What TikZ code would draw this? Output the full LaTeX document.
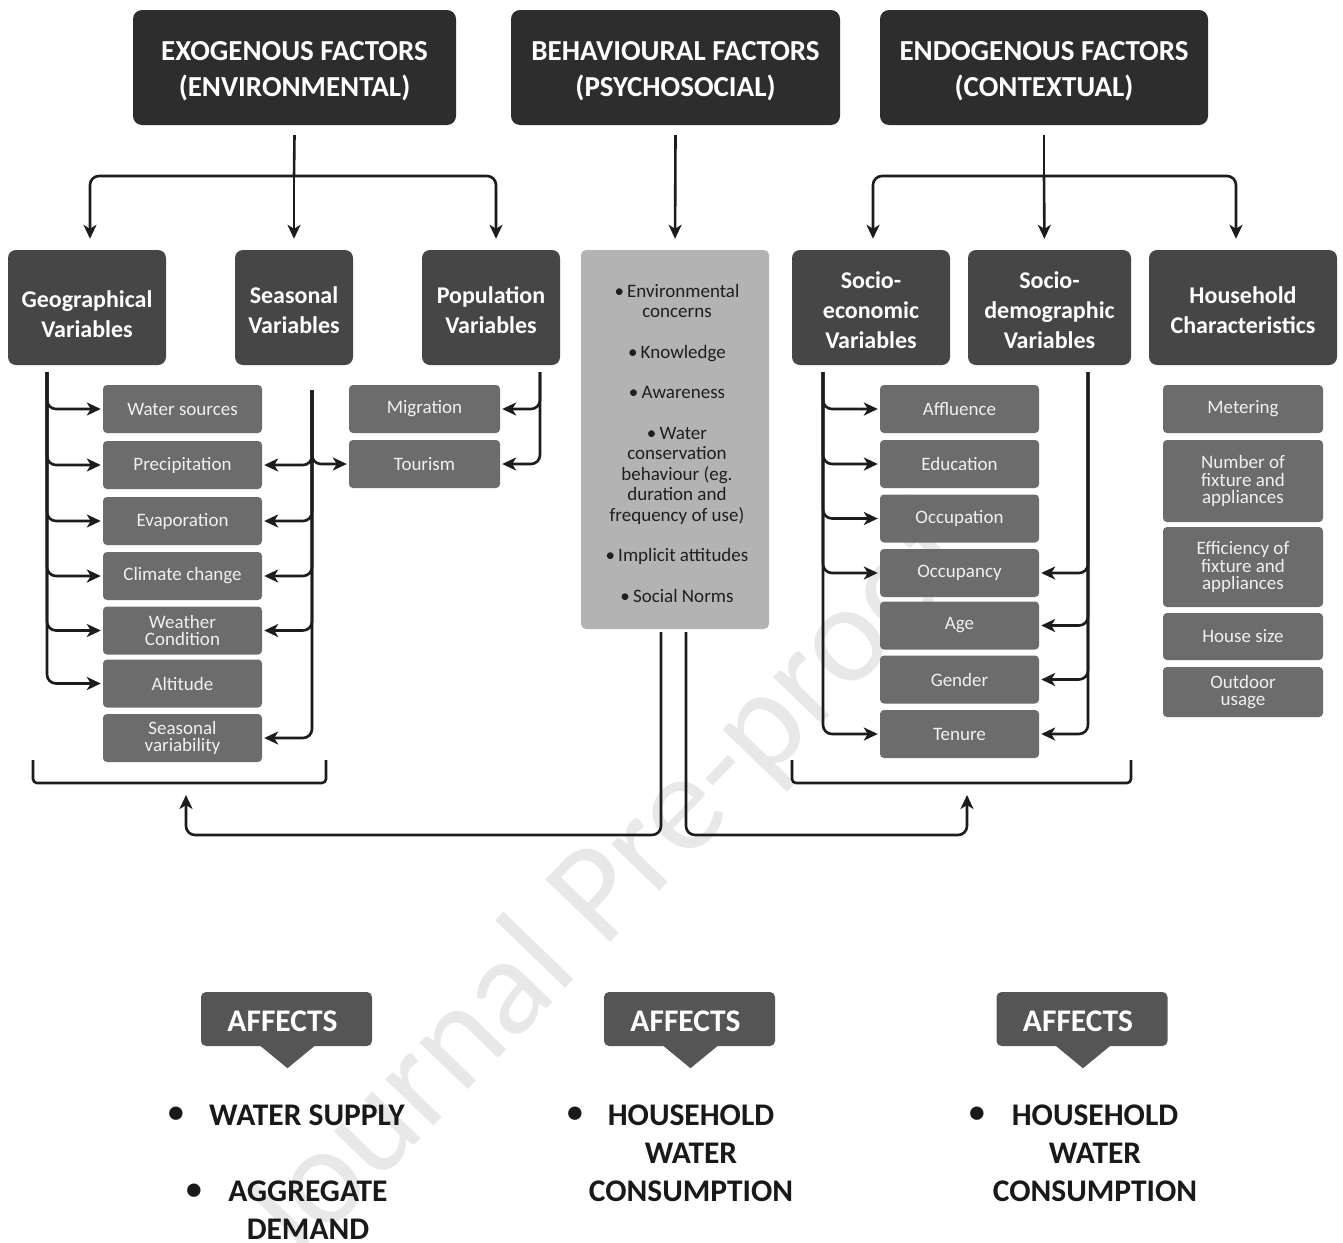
\documentclass[tikz,border=0pt]{standalone}
\usepackage{fontspec}
\setmainfont{Carlito}
\usetikzlibrary{arrows.meta,calc}
\definecolor{topc}{HTML}{2D2D2D}
\definecolor{midc}{HTML}{464646}
\definecolor{smc}{HTML}{6C6C6C}
\definecolor{smtext}{HTML}{F0F0F0}
\definecolor{behc}{HTML}{B3B3B3}
\definecolor{affc}{HTML}{555555}
\definecolor{linec}{HTML}{1C1C1C}
\definecolor{wmc}{HTML}{E8E8E8}
\begin{document}
\begin{tikzpicture}[x=1pt,y=-1pt,
  topbox/.style={fill=topc, rounded corners=9pt, inner sep=0pt, minimum height=115pt},
  toptext/.style={text=white, inner sep=0pt, align=center, font=\bfseries\fontsize{29}{36}\selectfont},
  midbox/.style={fill=midc, rounded corners=8pt, inner sep=0pt, minimum height=115pt},
  midtext/.style={text=white, inner sep=0pt, align=center, font=\bfseries\fontsize{24}{30}\selectfont},
  smbox/.style={fill=smc, text=smtext, rounded corners=4pt, inner sep=0pt, align=center,
    font=\fontsize{19}{17.5}\selectfont, minimum height=48pt, minimum width=159pt},
  behbox/.style={fill=behc, text=black!88, rounded corners=5pt, inner sep=0pt, align=center,
    font=\fontsize{19}{20.5}\selectfont},
  affbox/.style={fill=affc, rounded corners=5pt, inner sep=0pt, minimum width=171pt, minimum height=54pt},
  afftext/.style={text=white, inner sep=0pt, font=\bfseries\fontsize{31.5}{36}\selectfont},
  outt/.style={text=black!90, inner sep=0pt, align=center, font=\bfseries\fontsize{31.5}{38}\selectfont},
  ln/.style={draw=linec, line width=2.6pt, rounded corners=9pt},
  arr/.style={ln, -{Stealth[length=14pt,width=13pt,inset=4pt]}, shorten >=2pt},
]
\useasboundingbox (0,0) rectangle (1343,1242);
\fill[white] (0,0) rectangle (1343,1242);

% watermark
\node[text=wmc, rotate=46, inner sep=0pt, font=\fontsize{140}{140}\selectfont] (wm) at (610,889) {Journal Pre-proof};

% top row
\node[topbox, minimum width=323pt] (exo) at (294.5,67.5) {};
\node[toptext] (exoT) at (294.5,71.5) {EXOGENOUS FACTORS\\(ENVIRONMENTAL)};
\node[topbox, minimum width=329pt] (behav) at (675.5,67.5) {};
\node[toptext] (behavT) at (675.5,71.5) {BEHAVIOURAL FACTORS\\(PSYCHOSOCIAL)};
\node[topbox, minimum width=328pt] (endo) at (1044,67.5) {};
\node[toptext] (endoT) at (1044,71.5) {ENDOGENOUS FACTORS\\(CONTEXTUAL)};

% second row
\node[midbox, minimum width=158pt] (geo) at (87,307.5) {};
\node[midtext] (geoT) at (87,314.5) {Geographical\\Variables};
\node[midbox, minimum width=118pt] (sea) at (294,307.5) {};
\node[midtext] (seaT) at (294,310) {Seasonal\\Variables};
\node[midbox, minimum width=138pt] (pop) at (491,307.5) {};
\node[midtext] (popT) at (491,310) {Population\\Variables};
\node[midbox, minimum width=158pt] (seco) at (871,307.5) {};
\node[midtext] (secoT) at (871,310) {Socio-\\economic\\Variables};
\node[midbox, minimum width=163pt] (sdem) at (1049.5,307.5) {};
\node[midtext] (sdemT) at (1049.5,310) {Socio-\\demographic\\Variables};
\node[midbox, minimum width=188pt] (hh) at (1243,307.5) {};
\node[midtext] (hhT) at (1243,310) {Household\\Characteristics};

% behaviour list
\node[behbox, minimum width=188pt, minimum height=379pt] (beh) at (675,439.5) {};
\node[behbox, fill=none] (behtxt) at (677,443) {\textbullet\,Environmental\\concerns\\[20pt]
\textbullet\,Knowledge\\[20pt]
\textbullet\,Awareness\\[20pt]
\textbullet\,Water\\conservation\\behaviour (eg.\\duration and\\frequency of use)\\[20pt]
\textbullet\,Implicit attitudes\\[20pt]
\textbullet\,Social Norms};

% left small boxes
\node[smbox] (ws) at (182.5,409) {Water sources};
\node[smbox] (pr) at (182.5,465) {Precipitation};
\node[smbox] (ev) at (182.5,521) {Evaporation};
\node[smbox] (cc) at (182.5,576) {Climate change};
\node[smbox] (wc) at (182.5,630.5) {Weather\\Condition};
\node[smbox] (al) at (182.5,683.5) {Altitude};
\node[smbox] (sv) at (182.5,738) {Seasonal\\variability};

\node[smbox, minimum width=151pt] (mig) at (424.5,409) {Migration};
\node[smbox, minimum width=151pt] (tou) at (424.5,464) {Tourism};

% socio boxes
\node[smbox] (aff) at (959.5,409) {Affluence};
\node[smbox] (edu) at (959.5,464) {Education};
\node[smbox] (occ) at (959.5,518.5) {Occupation};
\node[smbox] (ocp) at (959.5,573) {Occupancy};
\node[smbox] (age) at (959.5,625.5) {Age};
\node[smbox] (gen) at (959.5,679.5) {Gender};
\node[smbox] (ten) at (959.5,734) {Tenure};

% household boxes
\node[smbox, minimum width=160pt] (met) at (1243,409) {Metering};
\node[smbox, minimum width=160pt, minimum height=82pt] (num) at (1243,481) {Number of\\fixture and\\appliances};
\node[smbox, minimum width=160pt, minimum height=80pt] (eff) at (1243,567) {Efficiency of\\fixture and\\appliances};
\node[smbox, minimum width=160pt, minimum height=47pt] (hs) at (1243,636.5) {House size};
\node[smbox, minimum width=160pt, minimum height=50pt] (out) at (1243,692) {Outdoor\\usage};

% top connectors
\coordinate (exoJ) at (294,176);
\draw[ln, rounded corners=0pt] (exo.south) ++(0,10) -- (exoJ);
\draw[arr, shorten >=11pt] (exoJ) -- (sea.north);
\draw[arr, shorten >=11pt] (exoJ) -| ([xshift=3pt]geo.north);
\draw[arr, shorten >=11pt] (exoJ) -| ([xshift=5pt]pop.north);
\draw[arr, shorten >=11pt] ([yshift=-10pt]behav.south) -- (beh.north);
\coordinate (endoJ) at (1044,176);
\draw[ln, rounded corners=0pt] (endo.south) ++(0,10) -- (endoJ);
\draw[arr, shorten >=11pt] (endoJ) -- ([xshift=-5pt]sdem.north);
\draw[arr, shorten >=11pt] (endoJ) -| ([xshift=2pt]seco.north);
\draw[arr, shorten >=11pt] (endoJ) -| ([xshift=-7pt]hh.north);

% geographical trunk
\coordinate (gT) at (47,372);
\foreach \b in {ws,pr,ev,cc,wc,al} \draw[arr] (gT) |- (\b.west);
% seasonal trunk
\coordinate (sT) at (312,390);
\foreach \b in {pr,ev,cc,wc,sv} \draw[arr] (sT) |- (\b.east);
\draw[arr] (sT) |- (tou.west);
% population trunk
\coordinate (pT) at (540,372);
\foreach \b in {mig,tou} \draw[arr] (pT) |- (\b.east);
% socio-economic trunk
\coordinate (eT) at (823,372);
\foreach \b in {aff,edu,occ,ocp,ten} \draw[arr] (eT) |- (\b.west);
% socio-demographic trunk
\coordinate (dT) at (1088,372);
\foreach \b in {ocp,age,gen,ten} \draw[arr] (dT) |- (\b.east);

% brackets
\coordinate (lb) at (186,783);
\coordinate (rb) at (967,783);
\draw[ln, rounded corners=4pt] (33,760) |- (lb) -| (326,760);
\draw[ln, rounded corners=4pt] (792,760) |- (rb) -| (1131,760);

% behaviour outputs
\coordinate (bo1) at (661,632);
\coordinate (bo2) at (686,632);
\draw[arr, shorten >=0pt] (bo1) |- ($(lb)+(0,52)$) -- ($(lb)+(0,12)$);
\draw[arr, shorten >=0pt] (bo2) |- ($(rb)+(0,52)$) -- ($(rb)+(0,12)$);

% affects callouts
\foreach \n/\x in {af1/286.5, af2/689.5, af3/1082} {
  \node[affbox] (\n) at (\x,1019) {};
  \fill[affc] ($(\n.south)+(-27,-1)$) -- ($(\n.south)+(1,22)$) -- ($(\n.south)+(29,-1)$) -- cycle;
  \node[afftext] (\n T) at ($(\n)+(-4,2)$) {AFFECTS};
}

% outcome texts
\node[outt] (bu1) at (176,1115) {•};
\node[outt, anchor=west] (o1) at (209,1115) {WATER SUPPLY};
\node[outt] (bu2) at (194,1192) {•};
\node[outt] (o2) at (308,1210) {AGGREGATE\\DEMAND};
\node[outt] (bu3) at (575,1115) {•};
\node[outt] (o3) at (691,1153) {HOUSEHOLD\\WATER\\CONSUMPTION};
\node[outt] (bu4) at (977,1115) {•};
\node[outt] (o4) at (1095,1153) {HOUSEHOLD\\WATER\\CONSUMPTION};
\end{tikzpicture}
\end{document}
